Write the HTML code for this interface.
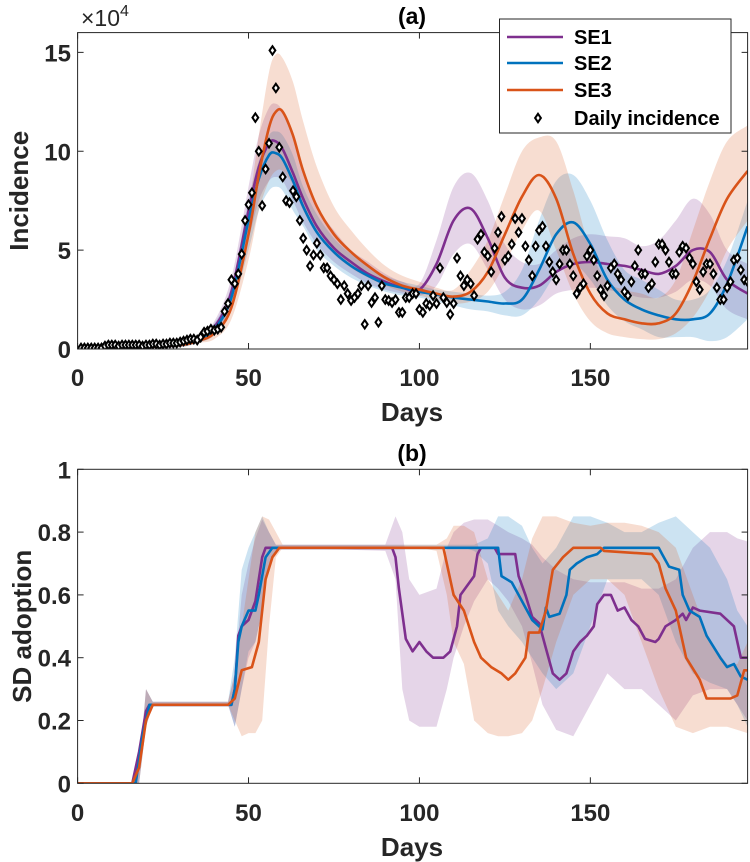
<!DOCTYPE html>
<html><head><meta charset="utf-8"><style>
html,body{margin:0;padding:0;background:#fff;}
svg{display:block;font-family:"Liberation Sans",Arial,sans-serif;font-weight:bold;}
</style></head><body>
<svg id="fig" width="750" height="862" viewBox="0 0 750 862" xmlns="http://www.w3.org/2000/svg">
<defs>
<clipPath id="clipA"><rect x="77.6" y="32.6" width="670" height="316.4"/></clipPath>
<clipPath id="clipB"><rect x="77.6" y="469.3" width="670" height="314"/></clipPath>
</defs>
<g id="panelA"></g>
<g id="panelB"></g>
</svg>
<script>
// ---------- Panel (a) data ----------
const knotsA = [0,10,20,30,35,40,45,50,53,56,58,60,63,66,70,75,80,85,90,95,100,105,110,115,120,125,130,135,140,145,150,155,160,165,170,175,180,185,190,196];
const se1A   = [0,0.05,0.1,0.2,0.5,1.1,2.9,7.0,9.2,10.4,10.5,10.1,8.9,7.6,6.2,5.1,4.4,3.8,3.4,3.1,3.0,4.3,6.5,7.1,5.6,3.6,3.1,3.2,3.9,4.3,4.4,4.3,4.2,4.0,3.8,4.2,5.0,4.9,3.5,2.8];
const se1ALo = [0,0,0.05,0.1,0.35,0.8,2.2,5.5,7.5,8.5,8.7,8.5,7.5,6.4,5.3,4.4,3.8,3.3,3.0,2.8,2.7,3.2,4.8,5.3,4.0,2.5,2.0,2.2,2.8,3.0,3.1,3.0,2.8,2.6,2.6,2.9,3.5,3.2,2.0,1.5];
const se1AHi = [0.05,0.1,0.2,0.3,0.6,1.4,3.6,8.2,10.8,12.2,12.4,12.0,10.6,9.0,7.2,6.0,5.0,4.4,3.8,3.4,3.3,5.5,8.2,8.9,7.5,5.3,4.4,4.3,5.0,5.6,5.8,5.7,5.6,5.2,5.5,6.5,7.6,6.8,5.0,4.3];
const se2A   = [0,0.05,0.1,0.2,0.45,1.0,2.6,6.5,8.6,9.8,9.9,9.6,8.5,7.2,5.9,4.9,4.2,3.7,3.3,3.1,2.9,2.75,2.6,2.5,2.4,2.3,2.5,4.0,5.8,6.4,5.3,3.5,2.5,2.0,1.7,1.5,1.5,1.8,3.3,6.2];
const se2ALo = [0,0,0.05,0.1,0.3,0.7,2.0,5.0,7.0,8.0,8.2,8.0,7.0,6.2,5.0,4.2,3.6,3.2,2.9,2.7,2.6,2.4,2.2,2.0,1.9,1.7,1.7,2.5,3.8,4.3,3.5,2.2,1.4,1.0,0.6,0.6,0.6,0.4,0.6,1.5];
const se2AHi = [0.05,0.1,0.2,0.3,0.6,1.3,3.2,7.5,9.5,10.8,11.0,10.8,9.8,8.2,6.8,5.6,4.8,4.2,3.7,3.4,3.2,3.0,2.9,2.8,2.7,2.9,4.0,6.5,8.5,8.8,7.5,5.5,4.0,3.5,3.0,2.5,2.5,3.0,4.5,7.5];
const se3A   = [0,0.05,0.1,0.2,0.4,0.8,2.1,5.8,8.8,11.2,12.0,12.0,10.8,9.0,7.2,5.8,4.9,4.2,3.6,3.2,3.0,2.8,2.65,2.9,3.9,5.8,7.7,8.8,7.6,4.8,2.8,1.8,1.5,1.3,1.3,1.8,3.4,5.6,7.6,9.0];
const se3ALo = [0,0,0.05,0.1,0.3,0.5,1.5,4.5,7.0,8.5,9.0,9.0,8.3,7.0,5.8,4.8,4.1,3.6,3.2,2.9,2.7,2.5,2.3,2.4,2.9,4.3,6.0,7.0,5.0,2.8,1.4,0.8,0.6,0.5,0.5,0.8,1.6,3.0,5.0,6.5];
const se3AHi = [0.05,0.1,0.2,0.3,0.5,1.0,2.7,7.2,10.8,14.0,14.9,14.7,13.5,11.5,9.2,7.2,6.0,5.0,4.2,3.7,3.4,3.1,3.0,4.0,5.5,7.8,10.0,10.7,10.5,8.0,5.0,3.4,3.0,2.8,2.6,3.5,6.0,8.5,10.5,11.3];
const dailyIncidence = [0.05,0.05,0.05,0.05,0.05,0.05,0.05,0.15,0.2,0.2,0.2,0.15,0.2,0.2,0.2,0.2,0.2,0.2,0.15,0.2,
0.2,0.25,0.25,0.2,0.25,0.25,0.3,0.3,0.3,0.35,0.4,0.45,0.5,0.5,0.45,0.6,0.85,0.9,1.0,0.95,
1.0,1.1,1.9,2.3,3.5,3.3,3.8,4.8,6.5,7.3,7.9,11.7,10.0,7.25,9.1,10.4,15.1,13.2,10.2,8.7,
7.5,7.4,8.0,7.7,6.5,5.6,5.0,4.2,4.75,5.35,4.75,4.1,4.1,3.7,3.5,3.3,2.5,3.2,2.8,2.45,
2.6,2.8,3.2,1.25,3.2,2.35,2.6,1.35,3.2,2.5,2.45,2.35,2.5,1.85,1.85,2.6,2.6,2.8,2.8,2.0,
1.85,2.3,2.2,2.7,2.3,4.1,2.6,2.35,1.75,2.3,4.6,3.7,3.2,3.5,3.3,2.7,5.55,5.8,4.9,4.7,
3.9,5.1,5.9,6.7,4.5,4.7,5.3,6.6,5.9,6.6,5.2,4.5,3.7,5.2,6.0,6.2,5.2,4.4,3.9,3.5,
4.3,5.0,5.0,4.3,3.7,2.8,3.1,3.3,4.7,5.0,4.5,3.7,3.0,2.7,3.2,4.1,4.3,3.8,3.5,2.9,
2.7,3.4,4.2,5.0,3.8,3.8,3.1,3.3,4.4,5.3,5.3,5.0,4.4,3.8,3.8,4.9,5.2,5.1,4.6,4.3,
3.4,3.0,3.9,4.3,4.3,3.8,3.1,2.5,2.5,3.1,3.4,4.5,4.6,4.0,3.5,3.4];
const xTicks = [0,50,100,150];
const xTickLabels = ["0","50","100","150"];
const yTicksA = [0,5,10,15];
const yTickLabelsA = ["0","5","10","15"];

// ---------- Panel (b) data ----------
const se1DaysB = [0,16,18,20,21,45,46,47,48,50,52,54,55,92,93,94,96,98,100,102,104,107,109,111,112,114,116,117,118,122,123,128,129,131,133,135,137,139,141,143,145,147,149,151,152,154,156,158,160,162,164,166,169,170,172,175,177,178,180,182,188,192,194,196];
const se1B = [0,0,0.1,0.23,0.25,0.25,0.3,0.47,0.5,0.52,0.58,0.72,0.75,0.75,0.72,0.62,0.46,0.42,0.45,0.42,0.4,0.4,0.42,0.5,0.6,0.63,0.66,0.73,0.75,0.75,0.73,0.73,0.66,0.6,0.53,0.51,0.43,0.35,0.33,0.35,0.42,0.45,0.47,0.5,0.57,0.6,0.6,0.55,0.56,0.52,0.5,0.46,0.45,0.46,0.5,0.52,0.54,0.52,0.56,0.55,0.54,0.5,0.4,0.4];
const se2DaysB = [0,17,19,21,45,46,47,48,50,52,53,55,57,123,124,127,129,131,133,136,137,138,141,143,144,146,149,152,154,170,171,173,176,177,179,182,184,188,190,192,194,196];
const se2B = [0,0,0.15,0.25,0.25,0.3,0.45,0.5,0.55,0.55,0.6,0.72,0.75,0.75,0.66,0.64,0.6,0.56,0.52,0.49,0.56,0.53,0.54,0.6,0.68,0.7,0.72,0.73,0.75,0.75,0.73,0.69,0.68,0.6,0.55,0.53,0.47,0.4,0.37,0.38,0.34,0.33];
const se3DaysB = [0,16,18,20,22,44,46,48,51,53,55,57,59,107,110,113,116,118,121,124,126,128,131,132,135,137,139,142,145,153,154,168,170,172,175,178,182,184,191,193,195,196];
const se3B = [0,0,0.05,0.2,0.25,0.25,0.27,0.36,0.37,0.45,0.65,0.72,0.75,0.75,0.6,0.55,0.45,0.4,0.37,0.35,0.33,0.35,0.4,0.48,0.48,0.55,0.68,0.72,0.75,0.75,0.74,0.73,0.7,0.62,0.55,0.4,0.33,0.27,0.27,0.28,0.36,0.36];
const bandDaysB = [16,18,20,22,44,46,48,50,52,54,56,58,60,90,93,95,97,100,105,108,110,113,116,120,123,126,130,133,136,140,145,150,155,160,165,170,175,180,185,190,193,196];
const se1BLo = [0,0,0.18,0.25,0.25,0.18,0.3,0.4,0.45,0.55,0.7,0.74,0.75,0.74,0.65,0.3,0.2,0.18,0.18,0.3,0.4,0.5,0.58,0.65,0.62,0.58,0.5,0.38,0.25,0.17,0.15,0.25,0.35,0.3,0.3,0.25,0.2,0.28,0.3,0.3,0.25,0.2];
const se1BHi = [0,0.05,0.3,0.26,0.26,0.35,0.6,0.7,0.78,0.84,0.8,0.76,0.76,0.76,0.85,0.8,0.65,0.6,0.62,0.75,0.8,0.83,0.84,0.84,0.82,0.8,0.78,0.76,0.72,0.68,0.65,0.64,0.64,0.64,0.62,0.62,0.65,0.75,0.8,0.8,0.78,0.77];
const se2BLo = [0,0,0.18,0.25,0.25,0.18,0.3,0.42,0.45,0.55,0.7,0.74,0.75,0.75,0.75,0.75,0.75,0.75,0.75,0.75,0.75,0.75,0.74,0.7,0.55,0.5,0.45,0.4,0.35,0.3,0.35,0.5,0.65,0.65,0.65,0.6,0.45,0.35,0.32,0.3,0.25,0.18];
const se2BHi = [0,0.05,0.3,0.26,0.26,0.4,0.68,0.75,0.8,0.85,0.8,0.76,0.76,0.76,0.76,0.76,0.76,0.76,0.76,0.76,0.76,0.76,0.76,0.78,0.85,0.85,0.82,0.75,0.7,0.75,0.85,0.85,0.83,0.8,0.8,0.83,0.85,0.8,0.75,0.65,0.55,0.5];
const se3BLo = [0,0,0.18,0.25,0.25,0.2,0.15,0.16,0.16,0.2,0.5,0.72,0.75,0.75,0.75,0.75,0.75,0.75,0.74,0.6,0.45,0.38,0.2,0.16,0.15,0.15,0.16,0.2,0.3,0.45,0.6,0.65,0.65,0.6,0.45,0.3,0.18,0.16,0.18,0.18,0.17,0.16];
const se3BHi = [0,0.05,0.3,0.26,0.26,0.35,0.5,0.65,0.8,0.85,0.84,0.8,0.76,0.76,0.76,0.76,0.76,0.76,0.76,0.78,0.82,0.82,0.8,0.65,0.6,0.55,0.65,0.78,0.85,0.85,0.83,0.82,0.83,0.83,0.82,0.8,0.75,0.6,0.45,0.38,0.38,0.45];
const yTicksB = [0,0.2,0.4,0.6,0.8,1];
const yTickLabelsB = ["0","0.2","0.4","0.6","0.8","1"];

// ---------- drawing ----------
const NS = "http://www.w3.org/2000/svg";
const C1 = "#7E2F8E", C2 = "#0072BD", C3 = "#D95319", AX = "#262626";
const X0 = 77.6, X1 = 747.6, XMAX = 196;
const xs = d => X0 + (X1 - X0) * d / XMAX;
const A = {top: 32.6, bot: 349, max: 16};
const B = {top: 469.3, bot: 783.3, max: 1};
const yA = v => A.bot - (A.bot - A.top) * v / A.max;
const yB = v => B.bot - (B.bot - B.top) * v / B.max;

function mk(tag, attrs, parent, text) {
  const e = document.createElementNS(NS, tag);
  for (const k in attrs) e.setAttribute(k, attrs[k]);
  if (text !== undefined) e.textContent = text;
  parent.appendChild(e);
  return e;
}
function smoothPath(pts, move) {
  let d = (move ? "M" : "L") + pts[0][0].toFixed(1) + "," + pts[0][1].toFixed(1);
  for (let i = 0; i < pts.length - 1; i++) {
    const p0 = pts[Math.max(i - 1, 0)], p1 = pts[i], p2 = pts[i + 1], p3 = pts[Math.min(i + 2, pts.length - 1)];
    const c1x = p1[0] + (p2[0] - p0[0]) / 6, c1y = p1[1] + (p2[1] - p0[1]) / 6;
    const c2x = p2[0] - (p3[0] - p1[0]) / 6, c2y = p2[1] - (p3[1] - p1[1]) / 6;
    d += "C" + c1x.toFixed(1) + "," + c1y.toFixed(1) + " " + c2x.toFixed(1) + "," + c2y.toFixed(1) + " " + p2[0].toFixed(1) + "," + p2[1].toFixed(1);
  }
  return d;
}
function linePath(pts, move) {
  return pts.map((p, i) => (i === 0 && move ? "M" : "L") + p[0].toFixed(1) + "," + p[1].toFixed(1)).join("");
}
function pts(days, vals, yf) {
  const n = Math.min(days.length, vals.length);
  const out = [];
  for (let i = 0; i < n; i++) out.push([xs(days[i]), yf(vals[i])]);
  return out;
}
function drawAxes(g, P, yf, yTicks, yLabels, xTickY, daysY, title, titleY, ylabel, ylabelX) {
  const box = mk("rect", {x: X0, y: P.top, width: X1 - X0, height: P.bot - P.top, fill: "none", stroke: AX, "stroke-width": 1}, g);
  
  
  xTicks.forEach((t, i) => {
    const x = xs(t);
    mk("line", {x1: x, x2: x, y1: P.bot, y2: P.bot - 6, stroke: AX, "stroke-width": 1}, g);
    mk("line", {x1: x, x2: x, y1: P.top, y2: P.top + 6, stroke: AX, "stroke-width": 1}, g);
    const tl = mk("text", {x: x, y: xTickY, "text-anchor": "middle", "font-size": 24, fill: AX}, g, xTickLabels[i]);
    
    
  });
  yTicks.forEach((t, i) => {
    const y = yf(t);
    mk("line", {x1: X0, x2: X0 + 6, y1: y, y2: y, stroke: AX, "stroke-width": 1}, g);
    mk("line", {x1: X1, x2: X1 - 6, y1: y, y2: y, stroke: AX, "stroke-width": 1}, g);
    const tl = mk("text", {x: 71, y: y + 9, "text-anchor": "end", "font-size": 24, fill: AX}, g, yLabels[i]);
    
    
  });
  const xl = mk("text", {x: 412, y: daysY, "text-anchor": "middle", "font-size": 26, fill: AX}, g, "Days");
  
  
  const tt = mk("text", {x: 412, y: titleY, "text-anchor": "middle", "font-size": 23, fill: "#000"}, g, title);
  
  
  const cy = (P.top + P.bot) / 2;
  const yl = mk("text", {x: ylabelX, y: cy, "text-anchor": "middle", "font-size": 26, fill: AX, transform: "rotate(-90 " + ylabelX + " " + cy + ")"}, g, ylabel);
  
  
}

// Panel A
const gA = document.getElementById("panelA");
const plotA = mk("g", {"clip-path": "url(#clipA)"}, gA);


[[se1ALo, se1AHi, C1, 'band-se1'], [se2ALo, se2AHi, C2, 'band-se2'], [se3ALo, se3AHi, C3, 'band-se3']].forEach(([lo, hi, c, nm]) => {
  const d = smoothPath(pts(knotsA, hi, yA), true) + smoothPath(pts(knotsA, lo, yA).reverse(), false) + "Z";
  const p = mk("path", {d: d, fill: c, "fill-opacity": 0.2, stroke: "none"}, plotA);
  
  
});
[[se1A, C1, 'line-se1'], [se2A, C2, 'line-se2'], [se3A, C3, 'line-se3']].forEach(([v, c, nm]) => {
  const p = mk("path", {d: smoothPath(pts(knotsA, v, yA), true), fill: "none", stroke: c, "stroke-width": 2.6}, plotA);
  
  
});
dailyIncidence.forEach((v, i) => {
  const x = xs(i + 1), y = yA(v);
  const m = mk("path", {d: `M${x},${y - 4.2}L${x + 2.9},${y}L${x},${y + 4.2}L${x - 2.9},${y}Z`, fill: "#fff", stroke: "#000", "stroke-width": 2}, plotA);
  
  
});
drawAxes(gA, A, yA, yTicksA, yTickLabelsA, 386, 421, "(a)", 24, "Incidence", 28);
const expo = mk("text", {x: 81, y: 26, "font-size": 23, fill: AX, "font-weight": "normal"}, gA);


mk("tspan", {}, expo, "×10");
mk("tspan", {dy: -10, "font-size": 16}, expo, "4");

// Legend
const lg = mk("g", {}, gA);


mk("rect", {x: 499.5, y: 19, width: 231.5, height: 114, fill: "#fff", stroke: AX, "stroke-width": 1}, lg);
[["SE1", C1, 37], ["SE2", C2, 63], ["SE3", C3, 90]].forEach(([t, c, y]) => {
  const e = mk("g", {}, lg);
  
  
  mk("line", {x1: 507, x2: 563, y1: y, y2: y, stroke: c, "stroke-width": 2.6}, e);
  mk("text", {x: 574, y: y + 7, "font-size": 20, fill: "#000"}, e, t);
});
const le = mk("g", {}, lg);


mk("path", {d: "M538,113.8L540.9,118L538,122.2L535.1,118Z", fill: "#fff", stroke: "#000", "stroke-width": 2}, le);
mk("text", {x: 574, y: 125, "font-size": 20, fill: "#000"}, le, "Daily incidence");

// Panel B
const gB = document.getElementById("panelB");
const plotB = mk("g", {"clip-path": "url(#clipB)"}, gB);


[[se1BLo, se1BHi, C1, 'band-se1'], [se2BLo, se2BHi, C2, 'band-se2'], [se3BLo, se3BHi, C3, 'band-se3']].forEach(([lo, hi, c, nm]) => {
  const d = linePath(pts(bandDaysB, hi, yB), true) + linePath(pts(bandDaysB, lo, yB).reverse(), false) + "Z";
  const p = mk("path", {d: d, fill: c, "fill-opacity": 0.2, stroke: "none"}, plotB);
  
  
});
[[se1DaysB, se1B, C1, 'line-se1'], [se2DaysB, se2B, C2, 'line-se2'], [se3DaysB, se3B, C3, 'line-se3']].forEach(([dd, v, c, nm]) => {
  const p = mk("path", {d: linePath(pts(dd, v, yB), true), fill: "none", stroke: c, "stroke-width": 2.6, "stroke-linejoin": "round"}, plotB);
  
  
});
drawAxes(gB, B, yB, yTicksB, yTickLabelsB, 821, 856, "(b)", 461, "SD adoption", 31);
</script>
</body></html>
